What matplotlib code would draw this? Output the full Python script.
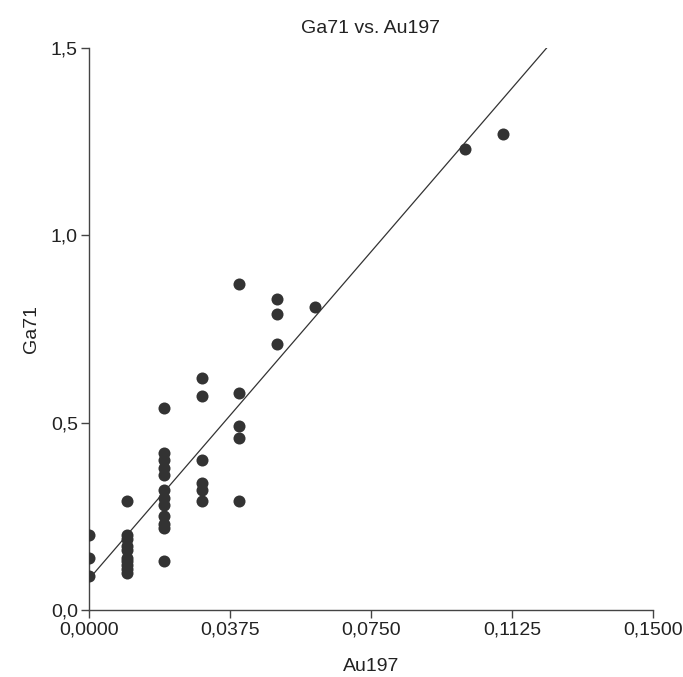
import numpy as np
import matplotlib
matplotlib.use('Agg')
import matplotlib.pyplot as plt
from matplotlib.ticker import FuncFormatter

plt.rcParams['font.family'] = ['Liberation Sans', 'DejaVu Sans']

# Data
au197 = [0.00, 0.00, 0.00,
         0.01, 0.01, 0.01, 0.01, 0.01, 0.01, 0.01, 0.01, 0.01, 0.01,
         0.02, 0.02, 0.02, 0.02, 0.02, 0.02, 0.02, 0.02, 0.02, 0.02, 0.02, 0.02,
         0.03, 0.03, 0.03, 0.03, 0.03, 0.03,
         0.04, 0.04, 0.04, 0.04, 0.04,
         0.05, 0.05, 0.05,
         0.06, 0.10, 0.11]
ga71 = [0.20, 0.14, 0.09,
        0.29, 0.20, 0.19, 0.17, 0.16, 0.14, 0.13, 0.12, 0.11, 0.10,
        0.54, 0.42, 0.40, 0.38, 0.36, 0.32, 0.30, 0.28, 0.25, 0.23, 0.22, 0.13,
        0.62, 0.57, 0.40, 0.34, 0.32, 0.29,
        0.87, 0.58, 0.49, 0.46, 0.29,
        0.83, 0.79, 0.71,
        0.81, 1.23, 1.27]

x_ticks = [0.0, 0.0375, 0.075, 0.1125, 0.15]
y_ticks = [0.0, 0.5, 1.0, 1.5]

fig = plt.figure(figsize=(6.83, 6.77), dpi=100)
ax = fig.add_axes([0.1303, 0.099, 0.8257, 0.830])

ax.scatter(au197, ga71, s=75, color='#333333', zorder=3, linewidths=0)

# least squares line
slope, intercept = np.polyfit(au197, ga71, 1)
xl = np.array([0.0, 0.15])
ax.plot(xl, intercept + slope * xl, color='#333333', lw=0.9, zorder=2)

ax.set_xlim(0, 0.15)
ax.set_ylim(0, 1.5)
ax.set_xticks(x_ticks)
ax.set_yticks(y_ticks)
ax.xaxis.set_major_formatter(FuncFormatter(lambda v, p: f"{v:.4f}".replace('.', ',')))
ax.yaxis.set_major_formatter(FuncFormatter(lambda v, p: f"{v:.1f}".replace('.', ',')))

for s in ['top', 'right']:
    ax.spines[s].set_visible(False)
for s in ['left', 'bottom']:
    ax.spines[s].set_color('#444444')
    ax.spines[s].set_linewidth(1.0)
ax.tick_params(direction='out', length=6, width=1.0, color='#444444',
               labelsize=14, labelcolor='#222222', pad=2)

ax.set_title('Ga71 vs. Au197', fontsize=14, color='#222222', pad=11)
ax.set_xlabel('Au197', fontsize=14, color='#222222', labelpad=14)
ax.set_ylabel('Ga71', fontsize=14, color='#222222', labelpad=8)

fig.savefig('out.png', dpi=100, facecolor='white')
